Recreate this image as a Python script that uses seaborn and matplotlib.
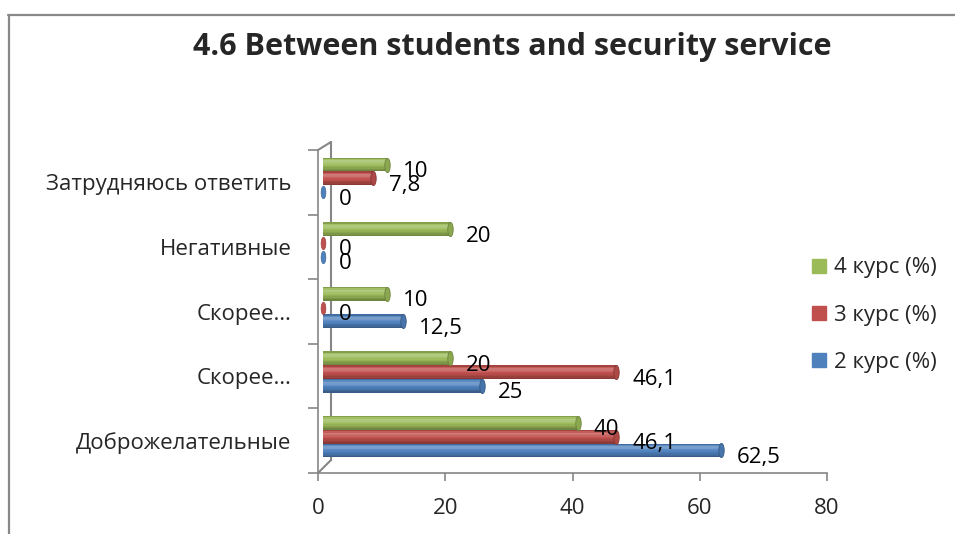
import numpy as np
import pandas as pd
import matplotlib
matplotlib.use("Agg")
import matplotlib.pyplot as plt
import matplotlib.transforms as mtransforms
from matplotlib.lines import Line2D
from matplotlib.path import Path
from matplotlib.patches import Rectangle
import seaborn as sns

# ---------------- data ----------------
categories = ["Затрудняюсь ответить", "Негативные", "Скорее негативные",
              "Скорее доброжелательные", "Доброжелательные"]
tick_labels = ["Затрудняюсь ответить", "Негативные", "Скорее…", "Скорее…",
               "Доброжелательные"]
series = ["4 курс (%)", "3 курс (%)", "2 курс (%)"]
kurs4 = [10, 20, 10, 20, 40]
kurs3 = [7.8, 0, 0, 46.1, 46.1]
kurs2 = [0, 0, 12.5, 25, 62.5]
x_ticks = [0, 20, 40, 60, 80]
title = "4.6 Between students and security service"
colors = ["#9BBB59", "#C0504D", "#4F81BD"]

values = {series[0]: kurs4, series[1]: kurs3, series[2]: kurs2}
df = pd.DataFrame([
    {"category": c, "series": s, "value": v}
    for s in series for c, v in zip(categories, values[s])
])
palette = dict(zip(series, colors))

# ---------------- style ----------------
sns.set_theme(style="white")
FONT = ["Open Sans", "DejaVu Sans"]
plt.rcParams["font.family"] = FONT
GRAY = "#868686"
FS = 16

DPI = 100
fig = plt.figure(figsize=(9.55, 5.34), dpi=DPI)
W, H = 955, 534
ax = fig.add_axes([318 / W, 1 - 473 / H, (827 - 318) / W, (473 - 150) / H])

sns.barplot(data=df, y="category", x="value", hue="series", order=categories,
            hue_order=series, palette=palette, orient="h", width=0.64,
            saturation=1, legend=False, ax=ax)

# 3D-like offset of bars
shift = mtransforms.ScaledTranslation(5 / DPI, 4 / DPI, fig.dpi_scale_trans)
bar_tr = ax.transData + shift

def darker(c, f=0.75):
    r, g, b = matplotlib.colors.to_rgb(c)
    return (r * f, g * f, b * f)

ell = Path.unit_circle().transformed(mtransforms.Affine2D().scale(0.38, 1.0))
# cylinder shading profile (top -> bottom), positive = lighten, negative = darken
shade = [-0.15, 0.08, 0.24, 0.2, 0.1, 0.02, -0.05, -0.12, -0.2, -0.28]

for cont, s, col in zip(ax.containers, series, colors):
    for bar, v in zip(cont, values[s]):
        y0 = bar.get_y()
        h = bar.get_height()
        yc = y0 + h / 2
        bar.set_transform(bar_tr)
        bar.set_edgecolor("none")
        bar.set_linewidth(0)
        z = bar.get_zorder()
        if v > 0:
            n = len(shade)
            for i, a in enumerate(shade):
                fc = "white" if a > 0 else "black"
                ax.add_patch(Rectangle((bar.get_x(), y0 + h * i / n), v, h / n,
                                       facecolor=fc, alpha=abs(a), linewidth=0,
                                       transform=bar_tr, zorder=z + 0.1))
            ax.scatter([v], [yc], marker=ell, s=105, color=darker(col, 0.9),
                       edgecolor=darker(col, 0.7), linewidth=0.6,
                       transform=bar_tr, zorder=z + 0.2)
        else:
            ax.scatter([0], [yc], marker=ell, s=80, color=col,
                       edgecolor=darker(col, 0.8), linewidth=0.5,
                       transform=bar_tr, zorder=3)
        lbl = f"{v:g}".replace(".", ",")
        ax.annotate(lbl, xy=(v, yc), xytext=(21, -3), textcoords="offset pixels",
                    ha="left", va="center", fontsize=FS, color="black",
                    family=FONT, zorder=5)

# ---------------- axes ----------------
ax.set_xlim(0, 80)
ax.set_ylim(len(categories) - 0.5, -0.5)
ax.set_xticks(x_ticks)
ax.set_xticklabels([str(t) for t in x_ticks], fontsize=FS)
ax.set_yticks(range(len(categories)))
ax.set_yticklabels(tick_labels, fontsize=FS)
ax.set_yticks(np.arange(-0.5, len(categories)), minor=True)
ax.tick_params(axis="y", which="major", length=0, pad=19)
ax.tick_params(axis="y", which="minor", length=7, width=1.2, color=GRAY, left=True)
ax.tick_params(axis="x", which="major", length=6, width=1.2, color=GRAY,
               bottom=True, pad=12)
ax.set_xlabel("")
ax.set_ylabel("")
for side in ["top", "right"]:
    ax.spines[side].set_visible(False)
for side in ["left", "bottom"]:
    ax.spines[side].set_color(GRAY)
    ax.spines[side].set_linewidth(1.2)
ax.set_facecolor("none")

# back wall lines (3D look)
def px_line(x0, y0, x1, y1, **kw):
    fig.add_artist(Line2D([x0 / W, x1 / W], [1 - y0 / H, 1 - y1 / H],
                          transform=fig.transFigure, color=GRAY, lw=1.5, **kw))

px_line(318, 150, 331, 142, zorder=0)
px_line(331, 142, 331, 460, zorder=0)
px_line(331, 460, 318, 473, zorder=0)

# ---------------- legend ----------------
handles = [Line2D([], [], marker="s", linestyle="", markersize=10,
                  markerfacecolor=c, markeredgecolor=c) for c in colors]
fig.legend(handles, series, loc="center left",
           bbox_to_anchor=(798 / W, 1 - 315 / H), bbox_transform=fig.transFigure,
           frameon=False, handlelength=0.9, handletextpad=0.2,
           labelspacing=1.18, borderpad=0, prop={"family": FONT, "size": FS})

# ---------------- title & frame ----------------
fig.text(512 / W, 1 - 47 / H, title, ha="center", va="center",
         fontsize=22, fontweight="bold", family=FONT)
fig.add_artist(Line2D([9 / W, 9 / W], [0, 1 - 15 / H], transform=fig.transFigure,
                      color="#888888", lw=1.6))
fig.add_artist(Line2D([8 / W, 1], [1 - 15 / H, 1 - 15 / H], transform=fig.transFigure,
                      color="#888888", lw=1.6))

fig.savefig("out.png", dpi=DPI)
